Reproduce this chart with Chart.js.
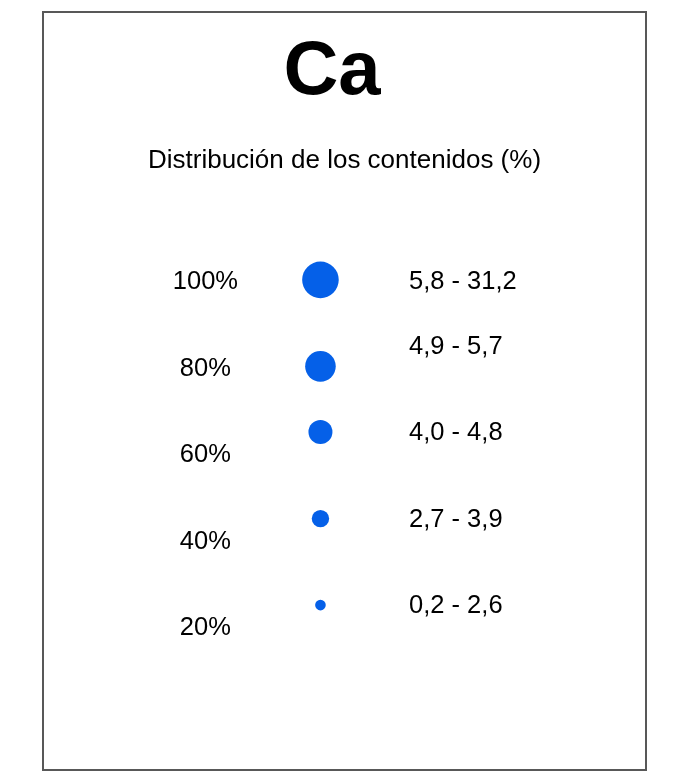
<!DOCTYPE html>
<html>
<head>
<meta charset="utf-8">
<script src="https://cdn.jsdelivr.net/npm/chart.js@4.4.1/dist/chart.umd.min.js"></script>
<style>
  html, body { margin: 0; padding: 0; background: #fff; }
  #frame {
    position: absolute;
    left: 42px;
    top: 11px;
    width: 601px;
    height: 756px;
    border: 2px solid #585858;
  }
  canvas { display: block; }
</style>
</head>
<body>
<div id="frame"><canvas id="chart" width="601" height="756"></canvas></div>
<script>
// Bubble legend for Ca content distribution
const pctLabels = ["100%", "80%", "60%", "40%", "20%"];
const pctLevels = [100, 80, 60, 40, 20];

const rangeLabels = ["5,8 - 31,2", "4,9 - 5,7", "4,0 - 4,8", "2,7 - 3,9", "0,2 - 2,6"];
const rangeLevels = [100, 85, 65, 45, 25];

const bubbleLevels = [100.5, 80.5, 65.3, 45.3, 25.3];
const bubbleSizes = [18.3, 15.3, 12, 8.7, 5.3];

const BLUE = "#0560e8";
const FONT = "'Liberation Sans', Arial, Helvetica, sans-serif";

const points = bubbleLevels.map((y, i) => ({ x: 0, y: y, r: bubbleSizes[i] }));

new Chart(document.getElementById("chart").getContext("2d"), {
  type: "bubble",
  data: {
    datasets: [
      {
        label: "Ca",
        data: points,
        backgroundColor: BLUE,
        borderWidth: 0,
        hoverBorderWidth: 0,
      },
    ],
  },
  options: {
    responsive: false,
    animation: false,
    events: [],
    layout: {
      padding: { top: 0, left: 0, right: 0, bottom: 54.5 },
    },
    plugins: {
      legend: { display: false },
      tooltip: { enabled: false },
      title: {
        display: true,
        fullSize: false, // centred over the plot area, a bit left of the frame centre
        text: "Ca",
        color: "#000",
        font: { family: FONT, size: 76, weight: "bold", lineHeight: 1 },
        padding: { top: 22, bottom: 0 },
      },
      subtitle: {
        display: true,
        text: "Distribución de los contenidos (%)",
        color: "#000",
        font: { family: FONT, size: 26, weight: "normal", lineHeight: 1 },
        padding: { top: 36.8, bottom: 64.95 },
      },
    },
    scales: {
      x: {
        type: "linear",
        display: false,
        min: -1,
        max: 1.37,
      },
      y: {
        type: "linear",
        position: "left",
        min: 0,
        max: 110,
        grid: { display: false, drawTicks: false },
        border: { display: false },
        afterFit: (scale) => { scale.width = 214; },
        afterBuildTicks: (scale) => {
          scale.ticks = pctLevels.map((v) => ({ value: v }));
        },
        ticks: {
          color: "#000",
          padding: 20,
          crossAlign: "center",
          autoSkip: false,
          font: { family: FONT, size: 25.5 },
          callback: (value, index) => pctLabels[index],
        },
      },
      ranges: {
        type: "linear",
        position: "right",
        display: true,
        min: 0,
        max: 110,
        grid: { display: false, drawTicks: false },
        border: { display: false },
        afterFit: (scale) => { scale.width = 239; },
        afterBuildTicks: (scale) => {
          scale.ticks = rangeLevels.map((v) => ({ value: v }));
        },
        ticks: {
          color: "#000",
          padding: 3,
          crossAlign: "near",
          autoSkip: false,
          font: { family: FONT, size: 25.5 },
          callback: (value, index) => rangeLabels[index],
        },
      },
    },
  },
});
</script>
</body>
</html>
